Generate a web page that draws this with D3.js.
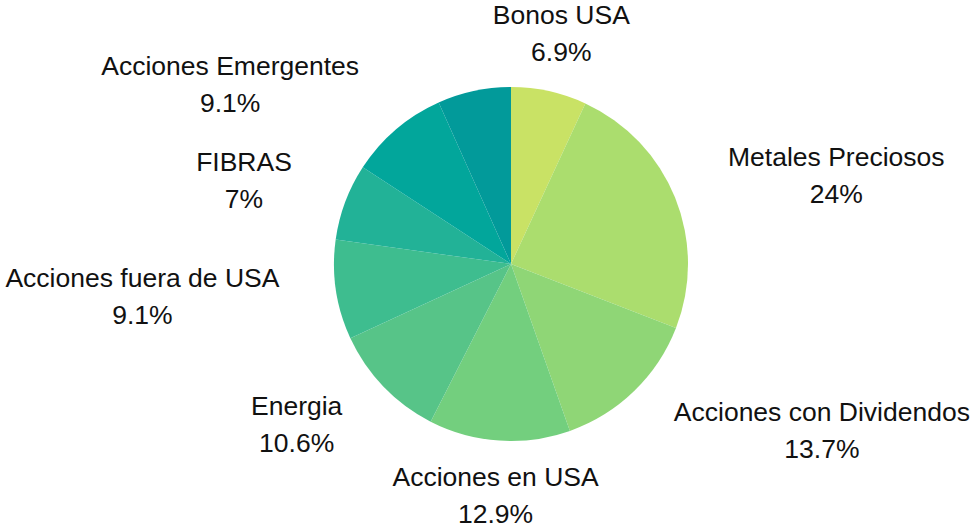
<!DOCTYPE html>
<html>
<head>
<meta charset="utf-8">
<script src="https://cdn.jsdelivr.net/npm/d3@7"></script>
<style>
  body { margin: 0; background: #fff; }
  .label { font-family: "Liberation Sans", Arial, sans-serif; font-size: 26.5px; fill: #111; }
</style>
</head>
<body>
<div id="pie-chart"></div>
<script>
const categories = ['Bonos USA', 'Metales Preciosos', 'Acciones con Dividendos', 'Acciones en USA',
  'Energia', 'Acciones fuera de USA', 'FIBRAS', 'Acciones Emergentes', ''];
const values = [6.9, 24, 13.7, 12.9, 10.6, 9.1, 7, 9.1, 6.7];
const valueLabels = ['6.9%', '24%', '13.7%', '12.9%', '10.6%', '9.1%', '7%', '9.1%', ''];

const palette = ['#c9e265', '#abdd6e', '#8fd676', '#73cf7e', '#57c488', '#3ebd8f', '#22b297', '#02a69b', '#029a9a'];

const width = 973, height = 529;
const cx = 511, cy = 264, radius = 177, labelRadius = 234;

const data = categories.map((c, i) => ({ name: c, value: values[i], pct: valueLabels[i] }));

const svg = d3.select('#pie-chart').append('svg')
  .attr('width', width)
  .attr('height', height);

const g = svg.append('g')
  .attr('transform', 'translate(' + cx + ',' + cy + ')');

const color = d3.scaleOrdinal()
  .domain(categories.map((c, i) => i))
  .range(palette);

const pie = d3.pie().sort(null).value((d) => d.value);
const arc = d3.arc().innerRadius(0).outerRadius(radius);

const arcs = pie(data);

g.selectAll('.slice')
  .data(arcs)
  .enter()
  .append('path')
  .attr('class', 'slice')
  .attr('d', arc)
  .attr('fill', (d, i) => color(i));

// labels sit on a ring outside the pie; on the sides the block is pushed away from it
const midAngle = (d) => (d.startAngle + d.endAngle) / 2;
const pos = (d) => [labelRadius * Math.sin(midAngle(d)), -labelRadius * Math.cos(midAngle(d))];

const labels = g.selectAll('.label')
  .data(arcs.filter((d) => d.data.name !== ''))
  .enter()
  .append('text')
  .attr('class', 'label')
  .attr('text-anchor', 'middle');

labels.append('tspan')
  .attr('x', (d) => pos(d)[0])
  .attr('y', (d) => pos(d)[1] - 11)
  .text((d) => d.data.name);

labels.append('tspan')
  .attr('x', (d) => pos(d)[0])
  .attr('y', (d) => pos(d)[1] + 26)
  .text((d) => d.data.pct);

labels.each(function (d) {
  const w = this.getBBox().width;
  const s = Math.sin(midAngle(d));
  let x = pos(d)[0];
  if (Math.abs(s) >= 0.4) x += (s > 0 ? 1 : -1) * w / 2;
  d3.select(this).selectAll('tspan').attr('x', x);
});
</script>
</body>
</html>
